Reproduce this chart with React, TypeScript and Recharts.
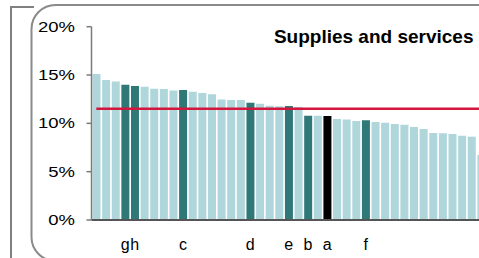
import React from 'react';
import { BarChart, Bar, XAxis, YAxis, Cell, ReferenceLine } from 'recharts';

const categories = [
  'p01', 'p02', 'p03', 'p04', 'p05', 'p06', 'p07', 'p08', 'p09', 'p10',
  'p11', 'p12', 'p13', 'p14', 'p15', 'p16', 'p17', 'p18', 'p19', 'p20',
  'p21', 'p22', 'p23', 'p24', 'p25', 'p26', 'p27', 'p28', 'p29', 'p30',
  'p31', 'p32', 'p33', 'p34', 'p35', 'p36', 'p37', 'p38', 'p39', 'p40',
  'p41',
];

const labels = [
  '', '', '', 'g', 'h', '', '', '', '', 'c',
  '', '', '', '', '', '', 'd', '', '', '',
  'e', '', 'b', '', 'a', '', '', '', 'f', '',
  '', '', '', '', '', '', '', '', '', '',
  '',
];

const values = [
  15.1, 14.48, 14.34, 13.99, 13.86, 13.79, 13.58, 13.55, 13.41, 13.44,
  13.27, 13.13, 13.0, 12.48, 12.41, 12.41, 12.13, 12.03, 11.82, 11.76,
  11.79, 11.69, 10.79, 10.79, 10.75, 10.44, 10.41, 10.24, 10.31, 10.13,
  10.06, 9.93, 9.86, 9.62, 9.41, 9.0, 8.97, 8.89, 8.72, 8.62,
  6.72,
];

const averageValue = 11.5;
const yTicks = [0, 5, 10, 15, 20];
const title = 'Supplies and services';

const data = categories.map((id, i) => ({ id, label: labels[i], value: values[i] }));

const FONT = '"Liberation Sans", Arial, sans-serif';
const LIGHT = '#afd6da';
const DARK = '#2e7877';
const SELF = '#000000';
const AXIS = '#7a7a7a';

const colorFor = (label: string) => (label === 'a' ? SELF : label ? DARK : LIGHT);

const YTick = (props: any) => {
  const { x, y, payload } = props;
  return (
    <text
      transform={`translate(${x} ${y}) scale(1.32 1)`}
      x={0}
      y={0}
      dy="0.36em"
      textAnchor="end"
      fontFamily={FONT}
      fontSize={14}
      fill="#000"
    >
      {`${payload.value}%`}
    </text>
  );
};

const XTick = (props: any) => {
  const { x, y, index } = props;
  const text = labels[index] ?? '';
  return (
    <text x={x} y={y + 30} textAnchor="middle" fontFamily={FONT} fontSize={16} fill="#000">
      {text}
    </text>
  );
};

export default function App() {
  return (
    <div style={{ position: 'absolute', left: 0, top: 0, width: 479, height: 258, overflow: 'hidden', background: '#fff' }}>
      <svg width={479} height={258} style={{ position: 'absolute', left: 0, top: 0 }}>
        <path d="M11 260 L11 7 L34 7" fill="none" stroke="#808080" strokeWidth={2} />
        <rect x={31.5} y={5} width={480} height={256} rx={24} ry={24} fill="none" stroke="#8a8a8a" strokeWidth={2} />
        <text x={473.5} y={43.3} textAnchor="end" fontFamily={FONT} fontWeight="bold" fontSize={19} fill="#000">
          {title}
        </text>
      </svg>
      <div style={{ position: 'absolute', left: 0, top: 0 }}>
        <BarChart
          width={486}
          height={258}
          data={data}
          margin={{ top: 26.7, right: 0, left: 0, bottom: 0 }}
        >
          <XAxis
            dataKey="id"
            type="category"
            height={38}
            tickLine={false}
            tickSize={0}
            tickMargin={0}
            interval={0}
            axisLine={{ stroke: '#555', strokeWidth: 2 }}
            tick={<XTick />}
          />
          <YAxis
            width={91.5}
            domain={[0, 20]}
            ticks={yTicks}
            type="number"
            tickSize={5}
            tickMargin={11.5}
            axisLine={{ stroke: AXIS, strokeWidth: 1.5 }}
            tickLine={{ stroke: AXIS, strokeWidth: 1.5 }}
            tick={<YTick />}
            interval={0}
          />
          <Bar dataKey="value" barSize={8} isAnimationActive={false}>
            {data.map((d) => (
              <Cell key={d.id} fill={colorFor(d.label)} />
            ))}
          </Bar>
          <ReferenceLine
            segment={[
              { x: categories[0], y: averageValue },
              { x: categories[categories.length - 1], y: averageValue },
            ]}
            stroke="#d4153d"
            strokeWidth={2.5}
            ifOverflow="visible"
          />
        </BarChart>
      </div>
    </div>
  );
}
